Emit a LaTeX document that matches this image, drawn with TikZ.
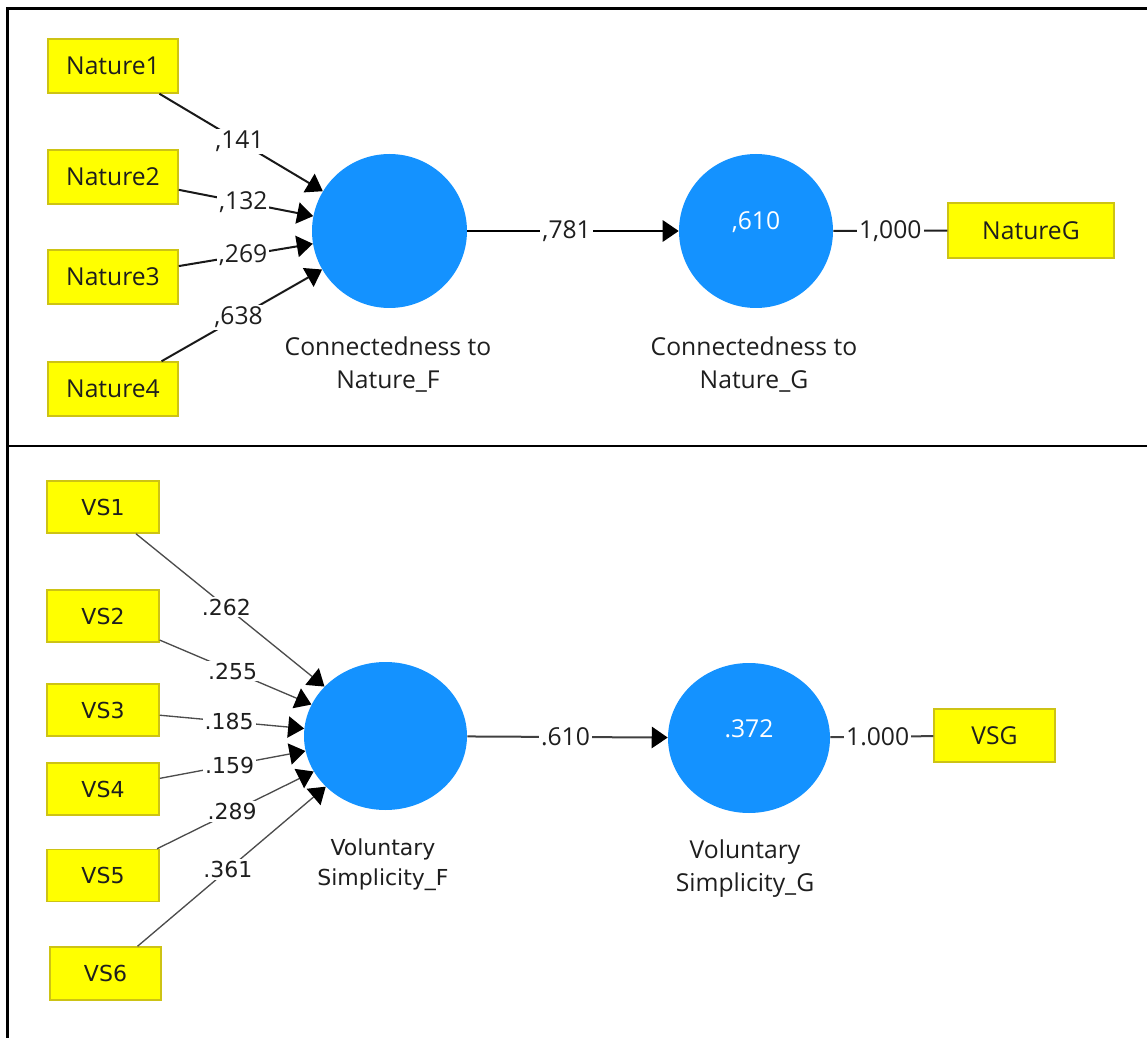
\documentclass[tikz,border=0pt]{standalone}
\usepackage{fontspec}
\setmainfont{Open Sans}
\newfontfamily\dvs{DejaVu Sans}
\usetikzlibrary{arrows.meta,shapes.geometric}
\definecolor{lvblue}{RGB}{20,146,255}
\definecolor{mvyel}{RGB}{255,255,0}
\definecolor{mvbord}{RGB}{205,195,20}
\definecolor{txt}{RGB}{30,30,30}
\begin{document}
\begin{tikzpicture}[x=0.75pt,y=-0.75pt,
  topf/.style={font=\fontsize{18.5}{25}\selectfont},
  botf/.style={font=\dvs\fontsize{16.5}{22.5}\selectfont},
  mvbox/.style={draw=mvbord, line width=1.1pt, fill=mvyel, inner sep=0pt, text=txt},
  lvnode/.style={ellipse, fill=lvblue, draw=none, inner sep=0pt},
  tipstyle/.style={-{Triangle[length=12pt,width=16pt,color=black]}},
  topconn/.style={draw=black!90, line width=1.5pt, tipstyle},
  botconn/.style={draw=black!70, line width=1pt, tipstyle},
  plainconn/.style={draw=black!88, line width=1.5pt},
  wt/.style={fill=white, inner sep=1.5pt, text=txt},
  captxt/.style={align=center, text=txt, inner sep=0pt}
]
\useasboundingbox (0,0) rectangle (1147,1038);
% frame
\draw[line width=1.9pt] (7.5,1040) -- (7.5,8.5) -- (1150,8.5);
\draw[line width=2pt] (7.5,446) -- (1150,446);

% ---------------- top model ----------------
\begin{scope}[topf]
\node[mvbox, minimum width=97.5pt, minimum height=40.5pt] (n1) at (113,66) {Nature1};
\node[mvbox, minimum width=97.5pt, minimum height=40.5pt] (n2) at (113,177) {Nature2};
\node[mvbox, minimum width=97.5pt, minimum height=40.5pt] (n3) at (113,277) {Nature3};
\node[mvbox, minimum width=97.5pt, minimum height=40.5pt] (n4) at (113,389) {Nature4};
\node[lvnode, minimum width=116.25pt, minimum height=115.5pt] (cf) at (389.5,231) {};
\node[lvnode, minimum width=115.5pt, minimum height=115.5pt] (cg) at (756,231) {};
\node[text=white, inner sep=0pt] (cgval) at (756,222) {,610};
\node[mvbox, minimum width=124.5pt, minimum height=41.25pt] (ng) at (1031,230.5) {NatureG};
\node[captxt] (cfcap) at (388,364.5) {Connectedness to\\Nature\_F};
\node[captxt] (cgcap) at (754,364.5) {Connectedness to\\Nature\_G};

\draw[topconn] (n1) -- node[wt,pos=0.49] {,141} (cf);
\draw[topconn] (n2) -- node[wt,pos=0.48] {,132} (cf);
\draw[topconn] (n3) -- node[wt,pos=0.48] {,269} (cf);
\draw[topconn] (n4) -- node[wt,pos=0.48] {,638} (cf);
\draw[topconn, draw=black] (cf) -- node[wt,pos=0.47] {,781} (cg);
\draw[plainconn] (cg) -- node[wt,pos=0.5] {1,000} (ng);
\end{scope}

% ---------------- bottom model ----------------
\begin{scope}[botf]
\node[mvbox, minimum width=84pt, minimum height=39pt] (v1) at (103,507) {VS1};
\node[mvbox, minimum width=84pt, minimum height=39pt] (v2) at (103,616) {VS2};
\node[mvbox, minimum width=84pt, minimum height=39pt] (v3) at (103,710) {VS3};
\node[mvbox, minimum width=84pt, minimum height=39pt] (v4) at (103,789) {VS4};
\node[mvbox, minimum width=84pt, minimum height=39pt] (v5) at (103,875.5) {VS5};
\node[mvbox, minimum width=83.25pt, minimum height=39.75pt] (v6) at (105.5,973.5) {VS6};
\node[lvnode, minimum width=122.25pt, minimum height=111pt] (vf) at (385.5,736) {};
\node[captxt] (vfcap) at (383,865) {Voluntary\\Simplicity\_F};
\end{scope}

\begin{scope}[topf]
\node[lvnode, minimum width=121.5pt, minimum height=112.5pt] (vg) at (749,738) {};
\node[text=white, inner sep=0pt] (vgval) at (749,729) {.372};
\node[mvbox, minimum width=90.75pt, minimum height=39.75pt] (vsg) at (994.5,735.5) {VSG};
\node[captxt] (vgcap) at (745,868.5) {Voluntary\\Simplicity\_G};
\draw[topconn, draw=black!75] (vf) -- node[wt,pos=0.49] {.610} (vg);
\draw[plainconn, draw=black!75] (vg) -- node[wt,pos=0.46] {1.000} (vsg);
\end{scope}

\begin{scope}[botf]
\draw[botconn] (v1) -- node[wt,pos=0.48] {.262} (vf);
\draw[botconn] (v2) -- node[wt,pos=0.48] {.255} (vf);
\draw[botconn] (v3) -- node[wt,pos=0.48] {.185} (vf);
\draw[botconn] (v4) -- node[wt,pos=0.48] {.159} (vf);
\draw[botconn] (v5) -- node[wt,pos=0.48] {.289} (vf);
\draw[botconn] (v6) -- node[wt,pos=0.48] {.361} (vf);
\end{scope}
\end{tikzpicture}
\end{document}
